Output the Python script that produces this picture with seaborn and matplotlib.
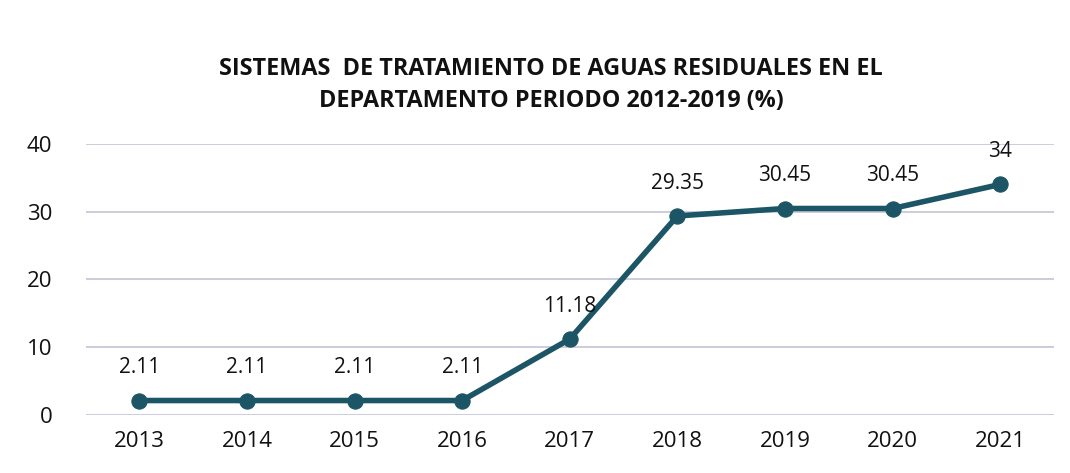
import matplotlib.pyplot as plt
import seaborn as sns
import pandas as pd

# data
years = ["2013", "2014", "2015", "2016", "2017", "2018", "2019", "2020", "2021"]
values = [2.11, 2.11, 2.11, 2.11, 11.18, 29.35, 30.45, 30.45, 34]
value_labels = ["2.11", "2.11", "2.11", "2.11", "11.18", "29.35", "30.45", "30.45", "34"]
y_ticks = [0, 10, 20, 30, 40]

title = "SISTEMAS  DE TRATAMIENTO DE AGUAS RESIDUALES EN EL\nDEPARTAMENTO PERIODO 2012-2019 (%)"

df = pd.DataFrame({"year": years, "value": values})

sns.set_theme(style="white")
plt.rcParams["font.family"] = ["Open Sans", "DejaVu Sans"]

fig = plt.figure(figsize=(10.70, 4.73), dpi=100)
ax = fig.add_axes([0.08, 0.123, 0.905, 0.573])

line_color = "#1b5566"
sns.lineplot(data=df, x="year", y="value", ax=ax, color=line_color, linewidth=4,
             marker="o", markersize=11, markeredgecolor=line_color, sort=False)

# data labels above each point
for i, (v, lab) in enumerate(zip(values, value_labels)):
    ax.annotate(lab, (i, v), xytext=(0, 16), textcoords="offset points",
                ha="center", va="bottom", fontsize=15, color="#111111",
                annotation_clip=False)

ax.set_ylim(0, 40)
ax.set_xlim(-0.5, len(years) - 0.5)
ax.set_yticks(y_ticks)
ax.yaxis.grid(True, color="#c8c8da", linewidth=1.3)
ax.set_axisbelow(True)
for s in ax.spines.values():
    s.set_visible(False)
ax.set_xlabel("")
ax.set_ylabel("")
ax.tick_params(axis="x", labelsize=16, pad=12, length=0, colors="#111111")
ax.tick_params(axis="y", labelsize=16, pad=24, length=0, colors="#111111")

fig.text(0.515, 0.82, title, ha="center", va="center", fontsize=16.8,
         fontweight="bold", color="#111111", linespacing=1.45)

fig.savefig("out.png", dpi=100, facecolor="white")
